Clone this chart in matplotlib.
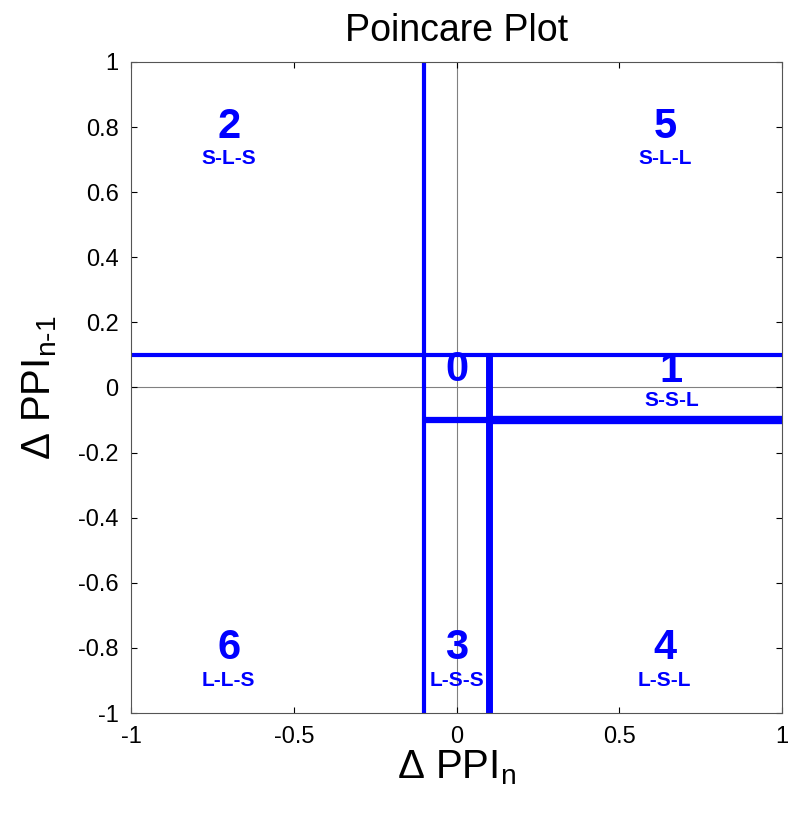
import matplotlib
matplotlib.use("Agg")
import matplotlib.pyplot as plt

plt.rcParams['font.family'] = ['Liberation Sans', 'DejaVu Sans']
plt.rcParams['mathtext.fontset'] = 'custom'
plt.rcParams['mathtext.rm'] = 'Liberation Sans'
plt.rcParams['mathtext.it'] = 'Liberation Sans'

# region boundaries: (x0, x1, y0, y1, linewidth)
seg_x0 = [-0.1, -1.0, 0.1, -0.1, 0.1]
seg_x1 = [-0.1, 1.0, 0.1, 1.0, 1.0]
seg_y0 = [-1.0, 0.1, -1.0, -0.1, -0.1]
seg_y1 = [1.0, 0.1, 0.1, -0.1, -0.1]
seg_lw = [3.0, 3.0, 5.0, 4.5, 6.0]

# region numbers and patterns
reg_num = ["2", "5", "0", "1", "6", "3", "4"]
reg_pat = ["S-L-S", "S-L-L", "", "S-S-L", "L-L-S", "L-S-S", "L-S-L"]
reg_x = [-0.7, 0.64, 0.0, 0.66, -0.7, 0.0, 0.64]
reg_y = [0.8, 0.8, 0.055, 0.05, -0.8, -0.8, -0.8]
pat_y = [0.705, 0.705, None, -0.04, -0.9, -0.9, -0.9]

blue = "#0000ff"

fig = plt.figure(figsize=(8, 8.22), dpi=100)
ax = fig.add_axes([0.164, 0.1326, 0.8135, 0.7920])

ax.axhline(0, color="#808080", lw=0.8, zorder=1)
ax.axvline(0, color="#808080", lw=0.8, zorder=1)

for x0, x1, y0, y1, lw in zip(seg_x0, seg_x1, seg_y0, seg_y1, seg_lw):
    ax.plot([x0, x1], [y0, y1], color=blue, lw=lw, solid_capstyle="butt", zorder=2)

for n, p, x, y, py in zip(reg_num, reg_pat, reg_x, reg_y, pat_y):
    ax.text(x, y, n, color=blue, fontsize=30, fontweight="bold", ha="center", va="center", zorder=3)
    if py is not None:
        ax.text(x, py, p, color=blue, fontsize=15, fontweight="bold", ha="center", va="center", zorder=3)

ax.set_xlim(-1, 1)
ax.set_ylim(-1, 1)
ax.set_xticks([-1, -0.5, 0, 0.5, 1])
ax.set_xticklabels(["-1", "-0.5", "0", "0.5", "1"])
ax.set_yticks([-1, -0.8, -0.6, -0.4, -0.2, 0, 0.2, 0.4, 0.6, 0.8, 1])
ax.set_yticklabels(["-1", "-0.8", "-0.6", "-0.4", "-0.2", "0", "0.2", "0.4", "0.6", "0.8", "1"])
ax.tick_params(direction="in", length=4, width=0.8, labelsize=17, top=True, right=True, pad=9)
for s in ax.spines.values():
    s.set_color("#555555")
    s.set_linewidth(0.8)

ax.set_title("Poincare Plot", fontsize=27, pad=15)
ax.set_xlabel(r"$\Delta$ PPI$_\mathrm{n}$", fontsize=29, labelpad=1)
ax.set_ylabel(r"$\Delta$ PPI$_\mathrm{n\text{-}1}$", fontsize=29, labelpad=14)

fig.savefig("out.png", dpi=100)
